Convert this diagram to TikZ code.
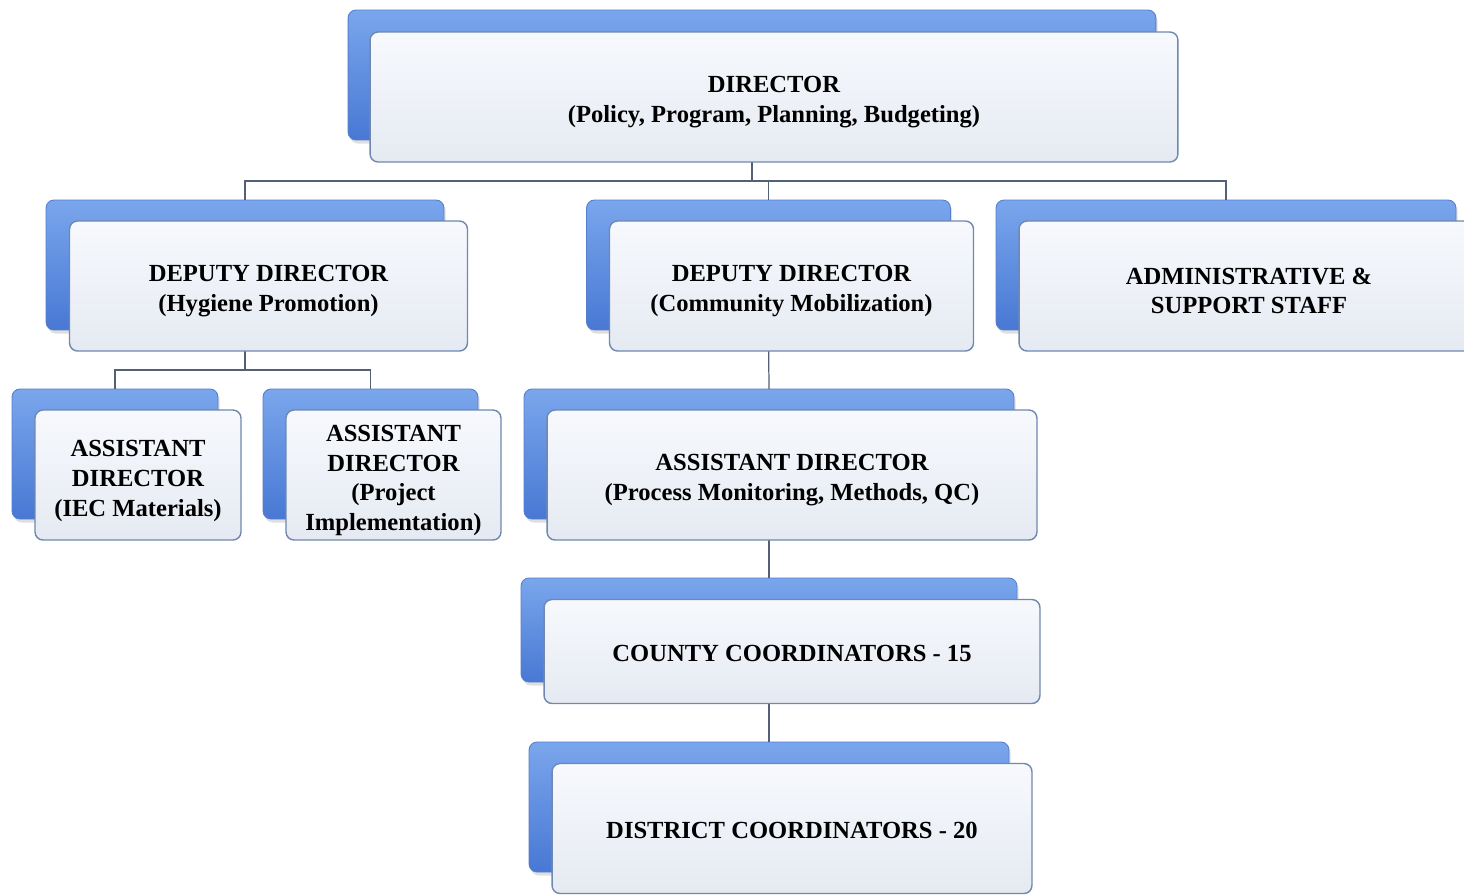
\documentclass[tikz,border=0pt]{standalone}
\usepackage{fontspec}
\setmainfont{Liberation Serif}
\usepackage{tikz}
\usetikzlibrary{shadows}

\definecolor{backtop}{RGB}{122,166,236}
\definecolor{backbot}{RGB}{72,120,212}
\definecolor{backline}{RGB}{86,126,204}
\definecolor{facetop}{RGB}{247,249,253}
\definecolor{facebot}{RGB}{229,234,242}
\definecolor{faceline}{RGB}{112,136,176}
\definecolor{linkcol}{RGB}{84,96,116}

\begin{document}
\begin{tikzpicture}[x=0.02cm, y=-0.02cm,
  back/.style={rectangle, rounded corners=0.16cm, draw=backline, line width=0.5pt,
    top color=backtop, bottom color=backbot, minimum height=2.6cm,
    inner sep=0pt, outer sep=0pt,
    drop shadow={opacity=0.25, shadow xshift=1pt, shadow yshift=-2pt}},
  front/.style={rectangle, rounded corners=0.16cm, draw=faceline, line width=0.8pt,
    top color=facetop, bottom color=facebot, minimum height=2.6cm,
    inner sep=0pt, outer sep=0pt, align=center, text height=31.9pt,
    font=\fontsize{14}{17}\selectfont\bfseries},
  link/.style={draw=linkcol, line width=0.7pt}]
\clip (0,0) rectangle (1464,894);
\fill[white] (0,0) rectangle (1464,894);

\node[back, minimum width=16.16cm] (dir) at (752,75) {};
\node[back, minimum width=7.96cm] (hyg) at (245,265) {};
\node[back, minimum width=7.28cm] (com) at (768.5,265) {};
\node[back, minimum width=9.2cm] (adm) at (1226,265) {};
\node[back, minimum width=4.12cm] (iec) at (115,454) {};
\node[back, minimum width=4.3cm] (prj) at (370.5,454) {};
\node[back, minimum width=9.8cm] (proc) at (769,454) {};
\node[back, minimum width=9.92cm, minimum height=2.08cm] (cty) at (769,630) {};
\node[back, minimum width=9.6cm] (dst) at (769,807) {};

\draw [link] (dir.south) -- ++(0,41) -| (hyg.north);
\draw [link] (dir.south) -- ++(0,41) -| (com.north);
\draw [link] (dir.south) -- ++(0,41) -| (adm.north);
\draw [link] (hyg.south) -- ++(0,40) -| (iec.north);
\draw [link] (hyg.south) -- ++(0,40) -| (prj.north);
\draw [link] (com.south) -- (proc.north);
\draw [link] (proc.south) -- (cty.north);
\draw [link] (cty.south) -- (dst.north);

\node[front, minimum width=16.16cm] (dirF) at (774,97) {DIRECTOR\\(Policy, Program, Planning, Budgeting)};
\node[front, minimum width=7.96cm] (hygF) at (268.5,286) {DEPUTY DIRECTOR\\(Hygiene Promotion)};
\node[front, minimum width=7.28cm] (comF) at (791.5,286) {DEPUTY DIRECTOR\\(Community Mobilization)};
\node[front, minimum width=9.2cm] (admF) at (1249,286) {ADMINISTRATIVE \&\\SUPPORT STAFF};
\node[front, minimum width=4.12cm, text height=50pt] (iecF) at (138,475) {ASSISTANT\\DIRECTOR\\(IEC Materials)};
\node[front, minimum width=4.3cm, text height=66.5pt] (prjF) at (393.5,475) {ASSISTANT\\DIRECTOR\\(Project\\Implementation)};
\node[front, minimum width=9.8cm] (procF) at (792,475) {ASSISTANT DIRECTOR\\(Process Monitoring, Methods, QC)};
\node[front, minimum width=9.92cm, minimum height=2.08cm, text height=11pt] (ctyF) at (792,651.5) {COUNTY COORDINATORS - 15};
\node[front, minimum width=9.6cm, text height=12pt] (dstF) at (792,828.5) {DISTRICT COORDINATORS - 20};
\end{tikzpicture}
\end{document}
